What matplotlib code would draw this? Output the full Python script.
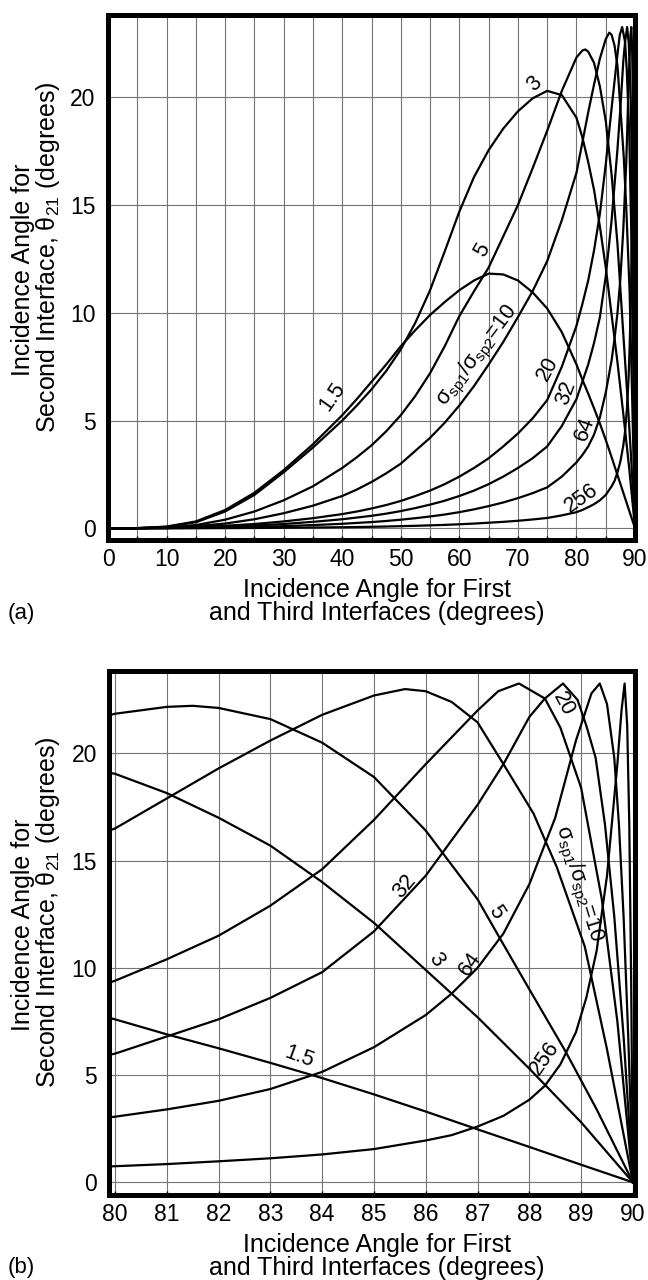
import matplotlib.pyplot as plt

plt.rcParams['font.family'] = ['Liberation Sans', 'DejaVu Sans']
plt.rcParams['mathtext.fontset'] = 'custom'
plt.rcParams['mathtext.rm'] = 'Liberation Sans'
plt.rcParams['mathtext.it'] = 'Liberation Sans'
plt.rcParams['mathtext.default'] = 'regular'

# ratios sigma_sp1 / sigma_sp2
ratios = ['1.5', '3', '5', '10', '20', '32', '64', '256']

# readings from panel (a), first/third interface angle 0-77.5 deg
ang_a = [0, 5, 10, 15, 20, 25, 30, 35, 40, 42.5, 45, 47.5, 50, 52.5, 55,
         57.5, 60, 62.5, 65, 67.5, 70, 72.5, 75, 77.5]
th_a_1_5 = [0, 0.01, 0.08, 0.32, 0.85, 1.65, 2.7, 3.9, 5.25, 6.0, 6.8, 7.6, 8.45, 9.2, 9.9,
            10.5, 11.05, 11.5, 11.82, 11.78, 11.5, 10.95, 10.2, 9.1]
th_a_3 = [0, 0.01, 0.07, 0.28, 0.78, 1.55, 2.6, 3.75, 5.0, 5.7, 6.45, 7.3, 8.3, 9.55, 11.05,
          12.85, 14.7, 16.3, 17.55, 18.55, 19.35, 19.95, 20.3, 20.1]
th_a_5 = [0, 0.005, 0.04, 0.15, 0.4, 0.78, 1.3, 1.95, 2.8, 3.3, 3.85, 4.5, 5.25, 6.15, 7.2,
          8.45, 9.85, 11.0, 12.1, 13.55, 15.0, 16.7, 18.45, 20.3]
th_a_10 = [0, 0.004, 0.03, 0.1, 0.22, 0.42, 0.7, 1.05, 1.5, 1.8, 2.15, 2.55, 3.0, 3.6, 4.2,
           4.9, 5.7, 6.6, 7.6, 8.65, 9.8, 11.0, 12.4, 14.3]
th_a_20 = [0, 0.003, 0.02, 0.06, 0.12, 0.2, 0.32, 0.47, 0.66, 0.78, 0.92, 1.08, 1.27, 1.5, 1.75,
           2.05, 2.4, 2.8, 3.25, 3.8, 4.4, 5.1, 5.95, 7.5]
th_a_32 = [0, 0.002, 0.013, 0.04, 0.08, 0.13, 0.2, 0.3, 0.42, 0.5, 0.58, 0.68, 0.8, 0.94, 1.1,
           1.28, 1.5, 1.75, 2.05, 2.4, 2.8, 3.25, 3.8, 4.75]
th_a_64 = [0, 0.001, 0.007, 0.02, 0.04, 0.07, 0.1, 0.15, 0.21, 0.25, 0.29, 0.34, 0.4, 0.47, 0.55,
           0.64, 0.75, 0.88, 1.03, 1.2, 1.4, 1.63, 1.9, 2.4]
th_a_256 = [0, 0, 0.002, 0.005, 0.01, 0.017, 0.026, 0.037, 0.05, 0.06, 0.07, 0.083, 0.1, 0.117,
            0.137, 0.16, 0.187, 0.22, 0.26, 0.3, 0.35, 0.41, 0.48, 0.6]

# readings from panel (b), 80-90 deg
ang_b_1_5 = [80, 81, 82, 83, 84, 85, 86, 87, 88, 89, 90]
th_b_1_5 = [7.6, 6.9, 6.25, 5.57, 4.86, 4.1, 3.3, 2.47, 1.65, 0.82, 0]
ang_b_3 = [80, 81, 82, 83, 84, 85, 86, 87, 88, 89, 90]
th_b_3 = [19.05, 18.15, 17.0, 15.7, 14.0, 12.1, 9.9, 7.7, 5.3, 2.8, 0]
ang_b_5 = [80, 81, 81.5, 82, 83, 84, 85, 86, 87, 87.45, 88, 88.7, 89.3, 90]
th_b_5 = [21.85, 22.17, 22.22, 22.12, 21.6, 20.5, 18.9, 16.4, 13.2, 11.3, 9.0, 6.1, 3.4, 0]
ang_b_10 = [80, 81, 82, 83, 84, 85, 85.6, 86, 86.5, 87, 87.5, 88.08, 88.53, 89.07, 89.5, 90]
th_b_10 = [16.5, 17.9, 19.3, 20.6, 21.8, 22.7, 23.0, 22.9, 22.4, 21.45, 19.5, 17.2, 14.7, 11.0, 6.2, 0]
ang_b_20 = [80, 81, 82, 83, 84, 85, 86, 87, 87.4, 87.8, 88.3, 88.6, 89.0, 89.4, 89.7, 90]
th_b_20 = [9.4, 10.4, 11.5, 12.9, 14.6, 16.9, 19.5, 22.0, 22.9, 23.26, 22.56, 21.2, 18.4, 13.2, 7.5, 0]
ang_b_32 = [80, 81, 82, 83, 84, 85, 86, 87, 87.5, 88, 88.3, 88.65, 88.93, 89.1, 89.28, 89.46,
            89.64, 89.82, 90]
th_b_32 = [6.0, 6.8, 7.6, 8.6, 9.8, 11.7, 14.3, 17.6, 19.5, 21.7, 22.56, 23.26, 22.5, 21.3, 19.8,
           16.7, 12.4, 6.8, 0]
ang_b_64 = [80, 81, 82, 83, 84, 85, 86, 86.5, 87, 87.5, 88, 88.5, 88.9, 89.2, 89.36, 89.5,
            89.64, 89.73, 89.82, 89.91, 90]
th_b_64 = [3.06, 3.4, 3.8, 4.35, 5.15, 6.3, 7.8, 8.8, 10.0, 11.6, 13.9, 17.0, 20.6, 22.8, 23.26,
           22.3, 19.8, 16.7, 12.4, 6.8, 0]
ang_b_256 = [80, 81, 82, 83, 84, 85, 86, 86.5, 87, 87.5, 88, 88.3, 88.6, 88.9, 89.1, 89.3,
             89.5, 89.7, 89.78, 89.84, 89.89, 89.93, 89.966, 90]
th_b_256 = [0.75, 0.85, 0.98, 1.12, 1.3, 1.55, 1.95, 2.2, 2.6, 3.1, 3.85, 4.5, 5.5, 7.0, 8.6,
            10.8, 14.3, 19.5, 22.0, 23.26, 21.3, 16.7, 9.5, 0]

curves = {
    '1.5': (ang_a + ang_b_1_5, th_a_1_5 + th_b_1_5),
    '3': (ang_a + ang_b_3, th_a_3 + th_b_3),
    '5': (ang_a + ang_b_5, th_a_5 + th_b_5),
    '10': (ang_a + ang_b_10, th_a_10 + th_b_10),
    '20': (ang_a + ang_b_20, th_a_20 + th_b_20),
    '32': (ang_a + ang_b_32, th_a_32 + th_b_32),
    '64': (ang_a + ang_b_64, th_a_64 + th_b_64),
    '256': (ang_a + ang_b_256, th_a_256 + th_b_256),
}

sig_label = r'σ$_{sp1}$/σ$_{sp2}$=10'

# curve labels: (text, x, y, rotation)
labels_a = [
    ('1.5', 38.3, 6.1, 55), ('3', 72.8, 20.6, 45), ('5', 64.0, 12.9, 60),
    (sig_label, 63.2, 8.0, 53), ('20', 75.0, 7.4, 62), ('32', 78.3, 6.3, 70),
    ('64', 81.4, 4.6, 70), ('256', 80.9, 1.4, 35),
]
labels_b = [
    ('32', 85.6, 13.8, 50), ('5', 87.35, 12.6, -58), ('20', 88.65, 22.3, -62),
    (sig_label, 88.95, 13.9, -73), ('3', 86.2, 10.4, -55), ('64', 86.85, 10.2, 55),
    ('1.5', 83.55, 5.85, -20), ('256', 88.3, 5.8, 55),
]

fig = plt.figure(figsize=(6.48, 12.8), dpi=100)
ax_a = fig.add_axes([0.1667, 0.5785, 0.8133, 0.4098])
ax_b = fig.add_axes([0.1687, 0.0666, 0.8120, 0.4093])


def setup(ax, xlim, ylim, major, minor):
    for r in ratios:
        x, y = curves[r]
        ax.plot(x, y, color='black', lw=1.6, zorder=3, solid_joinstyle='round')
    ax.set_xlim(*xlim)
    ax.set_ylim(*ylim)
    ax.set_xticks(major)
    ax.set_xticks(minor, minor=True)
    ax.set_yticks([0, 5, 10, 15, 20])
    ax.grid(True, which='both', color='0.45', lw=0.8, zorder=1)
    ax.tick_params(axis='x', which='both', direction='in', length=3, width=1,
                   labelsize=16.5, pad=6)
    ax.tick_params(axis='y', length=0, labelsize=16.5, pad=9)
    for s in ax.spines.values():
        s.set_linewidth(3.6)
        s.set_zorder(5)


setup(ax_a, (0, 90), (-0.52, 23.82), range(0, 91, 10), range(5, 90, 10))
setup(ax_b, (79.89, 90.05), (-0.58, 23.85), range(80, 91), [])

for ax, labs in ((ax_a, labels_a), (ax_b, labels_b)):
    for t, x, y, rot in labs:
        ax.text(x, y, t, fontsize=15.5, rotation=rot, ha='center', va='center',
                rotation_mode='anchor', zorder=4)

# axis titles and panel tags
for top, tag in ((0, '(a)'), (655, '(b)')):
    fig.text(23 / 648, 1 - (270 + top) / 1280, 'Incidence Angle for',
             rotation=90, ha='center', va='center', fontsize=18)
    fig.text(48 / 648, 1 - (257 + top) / 1280,
             r'Second Interface, θ$_{21}$ (degrees)',
             rotation=90, ha='center', va='center', fontsize=18)
    fig.text(377 / 648, 1 - (597 + top) / 1280, 'Incidence Angle for First',
             ha='center', va='baseline', fontsize=18)
    fig.text(377 / 648, 1 - (620 + top) / 1280, 'and Third Interfaces (degrees)',
             ha='center', va='baseline', fontsize=18)
    fig.text(8 / 648, 1 - (613 + top) / 1280, tag, ha='left', va='center',
             fontsize=16)

fig.savefig('out.png', dpi=100)
